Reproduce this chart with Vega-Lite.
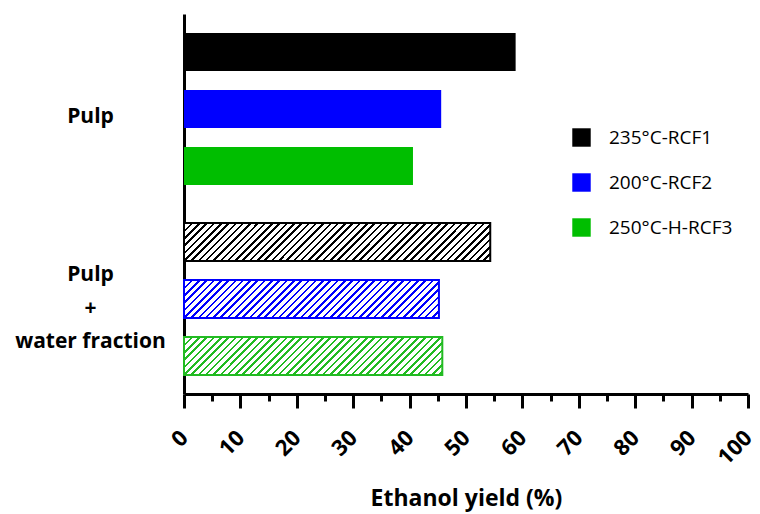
{
  "$schema": "https://vega.github.io/schema/vega-lite/v6.json",
  "width": 564,
  "height": 380,
  "autosize": "none",
  "padding": {"left": 184, "top": 14, "right": 12, "bottom": 120},
  "background": "white",
  "config": {"view": {"stroke": null}, "font": "Open Sans"},
  "data": {
    "values": [
      {"group": "Pulp", "series": "235°C-RCF1", "yield": 58.8},
      {"group": "Pulp", "series": "200°C-RCF2", "yield": 45.6},
      {"group": "Pulp", "series": "250°C-H-RCF3", "yield": 40.6},
      {"group": "Pulp + water fraction", "series": "235°C-RCF1", "yield": 54.3},
      {"group": "Pulp + water fraction", "series": "200°C-RCF2", "yield": 45.2},
      {"group": "Pulp + water fraction", "series": "250°C-H-RCF3", "yield": 45.8}
    ]
  },
  "encoding": {
    "y": {
      "field": "group",
      "type": "nominal",
      "sort": ["Pulp", "Pulp + water fraction"],
      "scale": {"paddingInner": 0, "paddingOuter": 0},
      "axis": {
        "title": null,
        "domainWidth": 3,
        "domainColor": "#000",
        "ticks": false,
        "tickSize": 0,
        "labelAlign": "center",
        "labelBaseline": "middle",
        "labelPadding": 94,
        "labelFontSize": 21,
        "labelFontWeight": "bold",
        "labelColor": "#000",
        "labelLineHeight": 33.5,
        "labelOffset": {"condition": {"test": "datum.value === 'Pulp'", "value": 8}, "value": -24},
        "labelLimit": 250,
        "labelExpr": "datum.value === 'Pulp' ? 'Pulp' : ['Pulp', '+', 'water fraction']"
      }
    },
    "yOffset": {
      "field": "series",
      "type": "nominal",
      "sort": ["235°C-RCF1", "200°C-RCF2", "250°C-H-RCF3"],
      "scale": {"paddingInner": 0.333, "paddingOuter": 0.333}
    },
    "x": {
      "field": "yield",
      "type": "quantitative",
      "scale": {"domain": [0, 100], "nice": false},
      "axis": {
        "title": "Ethanol yield (%)",
        "values": [0, 5, 10, 15, 20, 25, 30, 35, 40, 45, 50, 55, 60, 65, 70, 75, 80, 85, 90, 95, 100],
        "labelExpr": "datum.value % 10 === 0 ? datum.label : ''",
        "tickSize": {"condition": {"test": "datum.value % 10 === 0", "value": 14}, "value": 7},
        "tickWidth": 3,
        "tickColor": "#000",
        "domainWidth": 3,
        "domainColor": "#000",
        "grid": false,
        "labelAngle": -45,
        "labelAlign": "right",
        "labelBaseline": "middle",
        "labelFontSize": 22,
        "labelFontWeight": "bold",
        "labelColor": "#000",
        "labelPadding": 26,
        "labelOverlap": false,
        "labelFlush": false,
        "titleFontSize": 23,
        "titleFontWeight": "bold",
        "titleColor": "#000",
        "titleBaseline": "middle",
        "titleY": 104
      }
    }
  },
  "layer": [
    {
      "transform": [{"filter": "datum.group === 'Pulp'"}],
      "mark": {"type": "bar"},
      "encoding": {
        "color": {
          "field": "series",
          "type": "nominal",
          "sort": ["235°C-RCF1", "200°C-RCF2", "250°C-H-RCF3"],
          "scale": {"domain": ["235°C-RCF1", "200°C-RCF2", "250°C-H-RCF3"], "range": ["#000000", "#0000ff", "#00be00"]},
          "legend": {
            "title": null,
            "orient": "none",
            "legendX": 388,
            "legendY": 114,
            "symbolType": "square",
            "symbolSize": 340,
            "symbolStrokeWidth": 0,
            "labelFontSize": 19,
            "labelColor": "#000",
            "labelOffset": 18,
            "rowPadding": 25
          }
        }
      }
    },
    {
      "transform": [{"filter": "datum.group !== 'Pulp' && datum.series === '235°C-RCF1'"}],
      "mark": {
        "type": "bar",
        "stroke": "#000",
        "strokeWidth": 2,
        "fill": {
          "gradient": "linear", "x1": 0, "y1": 0, "x2": 1.174, "y2": 0.1456,
          "stops": [
            {"offset":0,"color":"#000"},{"offset":0.007,"color":"#000"},{"offset":0.007,"color":"#fff"},{"offset":0.02,"color":"#fff"},
            {"offset":0.02,"color":"#000"},{"offset":0.027,"color":"#000"},{"offset":0.027,"color":"#fff"},{"offset":0.04,"color":"#fff"},
            {"offset":0.04,"color":"#000"},{"offset":0.047,"color":"#000"},{"offset":0.047,"color":"#fff"},{"offset":0.06,"color":"#fff"},
            {"offset":0.06,"color":"#000"},{"offset":0.067,"color":"#000"},{"offset":0.067,"color":"#fff"},{"offset":0.08,"color":"#fff"},
            {"offset":0.08,"color":"#000"},{"offset":0.087,"color":"#000"},{"offset":0.087,"color":"#fff"},{"offset":0.1,"color":"#fff"},
            {"offset":0.1,"color":"#000"},{"offset":0.107,"color":"#000"},{"offset":0.107,"color":"#fff"},{"offset":0.12,"color":"#fff"},
            {"offset":0.12,"color":"#000"},{"offset":0.127,"color":"#000"},{"offset":0.127,"color":"#fff"},{"offset":0.14,"color":"#fff"},
            {"offset":0.14,"color":"#000"},{"offset":0.147,"color":"#000"},{"offset":0.147,"color":"#fff"},{"offset":0.16,"color":"#fff"},
            {"offset":0.16,"color":"#000"},{"offset":0.167,"color":"#000"},{"offset":0.167,"color":"#fff"},{"offset":0.18,"color":"#fff"},
            {"offset":0.18,"color":"#000"},{"offset":0.187,"color":"#000"},{"offset":0.187,"color":"#fff"},{"offset":0.2,"color":"#fff"},
            {"offset":0.2,"color":"#000"},{"offset":0.207,"color":"#000"},{"offset":0.207,"color":"#fff"},{"offset":0.22,"color":"#fff"},
            {"offset":0.22,"color":"#000"},{"offset":0.227,"color":"#000"},{"offset":0.227,"color":"#fff"},{"offset":0.24,"color":"#fff"},
            {"offset":0.24,"color":"#000"},{"offset":0.247,"color":"#000"},{"offset":0.247,"color":"#fff"},{"offset":0.26,"color":"#fff"},
            {"offset":0.26,"color":"#000"},{"offset":0.267,"color":"#000"},{"offset":0.267,"color":"#fff"},{"offset":0.28,"color":"#fff"},
            {"offset":0.28,"color":"#000"},{"offset":0.287,"color":"#000"},{"offset":0.287,"color":"#fff"},{"offset":0.3,"color":"#fff"},
            {"offset":0.3,"color":"#000"},{"offset":0.307,"color":"#000"},{"offset":0.307,"color":"#fff"},{"offset":0.32,"color":"#fff"},
            {"offset":0.32,"color":"#000"},{"offset":0.327,"color":"#000"},{"offset":0.327,"color":"#fff"},{"offset":0.34,"color":"#fff"},
            {"offset":0.34,"color":"#000"},{"offset":0.347,"color":"#000"},{"offset":0.347,"color":"#fff"},{"offset":0.36,"color":"#fff"},
            {"offset":0.36,"color":"#000"},{"offset":0.367,"color":"#000"},{"offset":0.367,"color":"#fff"},{"offset":0.38,"color":"#fff"},
            {"offset":0.38,"color":"#000"},{"offset":0.387,"color":"#000"},{"offset":0.387,"color":"#fff"},{"offset":0.4,"color":"#fff"},
            {"offset":0.4,"color":"#000"},{"offset":0.407,"color":"#000"},{"offset":0.407,"color":"#fff"},{"offset":0.42,"color":"#fff"},
            {"offset":0.42,"color":"#000"},{"offset":0.427,"color":"#000"},{"offset":0.427,"color":"#fff"},{"offset":0.44,"color":"#fff"},
            {"offset":0.44,"color":"#000"},{"offset":0.447,"color":"#000"},{"offset":0.447,"color":"#fff"},{"offset":0.46,"color":"#fff"},
            {"offset":0.46,"color":"#000"},{"offset":0.467,"color":"#000"},{"offset":0.467,"color":"#fff"},{"offset":0.48,"color":"#fff"},
            {"offset":0.48,"color":"#000"},{"offset":0.487,"color":"#000"},{"offset":0.487,"color":"#fff"},{"offset":0.5,"color":"#fff"},
            {"offset":0.5,"color":"#000"},{"offset":0.507,"color":"#000"},{"offset":0.507,"color":"#fff"},{"offset":0.52,"color":"#fff"},
            {"offset":0.52,"color":"#000"},{"offset":0.527,"color":"#000"},{"offset":0.527,"color":"#fff"},{"offset":0.54,"color":"#fff"},
            {"offset":0.54,"color":"#000"},{"offset":0.547,"color":"#000"},{"offset":0.547,"color":"#fff"},{"offset":0.56,"color":"#fff"},
            {"offset":0.56,"color":"#000"},{"offset":0.567,"color":"#000"},{"offset":0.567,"color":"#fff"},{"offset":0.58,"color":"#fff"},
            {"offset":0.58,"color":"#000"},{"offset":0.587,"color":"#000"},{"offset":0.587,"color":"#fff"},{"offset":0.6,"color":"#fff"},
            {"offset":0.6,"color":"#000"},{"offset":0.607,"color":"#000"},{"offset":0.607,"color":"#fff"},{"offset":0.62,"color":"#fff"},
            {"offset":0.62,"color":"#000"},{"offset":0.627,"color":"#000"},{"offset":0.627,"color":"#fff"},{"offset":0.64,"color":"#fff"},
            {"offset":0.64,"color":"#000"},{"offset":0.647,"color":"#000"},{"offset":0.647,"color":"#fff"},{"offset":0.66,"color":"#fff"},
            {"offset":0.66,"color":"#000"},{"offset":0.667,"color":"#000"},{"offset":0.667,"color":"#fff"},{"offset":0.68,"color":"#fff"},
            {"offset":0.68,"color":"#000"},{"offset":0.687,"color":"#000"},{"offset":0.687,"color":"#fff"},{"offset":0.7,"color":"#fff"},
            {"offset":0.7,"color":"#000"},{"offset":0.707,"color":"#000"},{"offset":0.707,"color":"#fff"},{"offset":0.72,"color":"#fff"},
            {"offset":0.72,"color":"#000"},{"offset":0.727,"color":"#000"},{"offset":0.727,"color":"#fff"},{"offset":0.74,"color":"#fff"},
            {"offset":0.74,"color":"#000"},{"offset":0.747,"color":"#000"},{"offset":0.747,"color":"#fff"},{"offset":0.76,"color":"#fff"},
            {"offset":0.76,"color":"#000"},{"offset":0.767,"color":"#000"},{"offset":0.767,"color":"#fff"},{"offset":0.78,"color":"#fff"},
            {"offset":0.78,"color":"#000"},{"offset":0.787,"color":"#000"},{"offset":0.787,"color":"#fff"},{"offset":0.8,"color":"#fff"},
            {"offset":0.8,"color":"#000"},{"offset":0.807,"color":"#000"},{"offset":0.807,"color":"#fff"},{"offset":0.82,"color":"#fff"},
            {"offset":0.82,"color":"#000"},{"offset":0.827,"color":"#000"},{"offset":0.827,"color":"#fff"},{"offset":0.84,"color":"#fff"},
            {"offset":0.84,"color":"#000"},{"offset":0.847,"color":"#000"},{"offset":0.847,"color":"#fff"},{"offset":0.86,"color":"#fff"},
            {"offset":0.86,"color":"#000"},{"offset":0.867,"color":"#000"},{"offset":0.867,"color":"#fff"},{"offset":0.88,"color":"#fff"},
            {"offset":0.88,"color":"#000"},{"offset":0.887,"color":"#000"},{"offset":0.887,"color":"#fff"},{"offset":0.9,"color":"#fff"},
            {"offset":0.9,"color":"#000"},{"offset":0.907,"color":"#000"},{"offset":0.907,"color":"#fff"},{"offset":0.92,"color":"#fff"},
            {"offset":0.92,"color":"#000"},{"offset":0.927,"color":"#000"},{"offset":0.927,"color":"#fff"},{"offset":0.94,"color":"#fff"},
            {"offset":0.94,"color":"#000"},{"offset":0.947,"color":"#000"},{"offset":0.947,"color":"#fff"},{"offset":0.96,"color":"#fff"}
          ]
        }
      }
    },
    {
      "transform": [{"filter": "datum.group !== 'Pulp' && datum.series === '200°C-RCF2'"}],
      "mark": {
        "type": "bar",
        "stroke": "#00f",
        "strokeWidth": 2,
        "fill": {
          "gradient": "linear", "x1": 0, "y1": 0, "x2": 1.4005, "y2": 0.2088,
          "stops": [
            {"offset":0,"color":"#00f"},{"offset":0.007,"color":"#00f"},{"offset":0.007,"color":"#fff"},{"offset":0.02,"color":"#fff"},
            {"offset":0.02,"color":"#00f"},{"offset":0.027,"color":"#00f"},{"offset":0.027,"color":"#fff"},{"offset":0.04,"color":"#fff"},
            {"offset":0.04,"color":"#00f"},{"offset":0.047,"color":"#00f"},{"offset":0.047,"color":"#fff"},{"offset":0.06,"color":"#fff"},
            {"offset":0.06,"color":"#00f"},{"offset":0.067,"color":"#00f"},{"offset":0.067,"color":"#fff"},{"offset":0.08,"color":"#fff"},
            {"offset":0.08,"color":"#00f"},{"offset":0.087,"color":"#00f"},{"offset":0.087,"color":"#fff"},{"offset":0.1,"color":"#fff"},
            {"offset":0.1,"color":"#00f"},{"offset":0.107,"color":"#00f"},{"offset":0.107,"color":"#fff"},{"offset":0.12,"color":"#fff"},
            {"offset":0.12,"color":"#00f"},{"offset":0.127,"color":"#00f"},{"offset":0.127,"color":"#fff"},{"offset":0.14,"color":"#fff"},
            {"offset":0.14,"color":"#00f"},{"offset":0.147,"color":"#00f"},{"offset":0.147,"color":"#fff"},{"offset":0.16,"color":"#fff"},
            {"offset":0.16,"color":"#00f"},{"offset":0.167,"color":"#00f"},{"offset":0.167,"color":"#fff"},{"offset":0.18,"color":"#fff"},
            {"offset":0.18,"color":"#00f"},{"offset":0.187,"color":"#00f"},{"offset":0.187,"color":"#fff"},{"offset":0.2,"color":"#fff"},
            {"offset":0.2,"color":"#00f"},{"offset":0.207,"color":"#00f"},{"offset":0.207,"color":"#fff"},{"offset":0.22,"color":"#fff"},
            {"offset":0.22,"color":"#00f"},{"offset":0.227,"color":"#00f"},{"offset":0.227,"color":"#fff"},{"offset":0.24,"color":"#fff"},
            {"offset":0.24,"color":"#00f"},{"offset":0.247,"color":"#00f"},{"offset":0.247,"color":"#fff"},{"offset":0.26,"color":"#fff"},
            {"offset":0.26,"color":"#00f"},{"offset":0.267,"color":"#00f"},{"offset":0.267,"color":"#fff"},{"offset":0.28,"color":"#fff"},
            {"offset":0.28,"color":"#00f"},{"offset":0.287,"color":"#00f"},{"offset":0.287,"color":"#fff"},{"offset":0.3,"color":"#fff"},
            {"offset":0.3,"color":"#00f"},{"offset":0.307,"color":"#00f"},{"offset":0.307,"color":"#fff"},{"offset":0.32,"color":"#fff"},
            {"offset":0.32,"color":"#00f"},{"offset":0.327,"color":"#00f"},{"offset":0.327,"color":"#fff"},{"offset":0.34,"color":"#fff"},
            {"offset":0.34,"color":"#00f"},{"offset":0.347,"color":"#00f"},{"offset":0.347,"color":"#fff"},{"offset":0.36,"color":"#fff"},
            {"offset":0.36,"color":"#00f"},{"offset":0.367,"color":"#00f"},{"offset":0.367,"color":"#fff"},{"offset":0.38,"color":"#fff"},
            {"offset":0.38,"color":"#00f"},{"offset":0.387,"color":"#00f"},{"offset":0.387,"color":"#fff"},{"offset":0.4,"color":"#fff"},
            {"offset":0.4,"color":"#00f"},{"offset":0.407,"color":"#00f"},{"offset":0.407,"color":"#fff"},{"offset":0.42,"color":"#fff"},
            {"offset":0.42,"color":"#00f"},{"offset":0.427,"color":"#00f"},{"offset":0.427,"color":"#fff"},{"offset":0.44,"color":"#fff"},
            {"offset":0.44,"color":"#00f"},{"offset":0.447,"color":"#00f"},{"offset":0.447,"color":"#fff"},{"offset":0.46,"color":"#fff"},
            {"offset":0.46,"color":"#00f"},{"offset":0.467,"color":"#00f"},{"offset":0.467,"color":"#fff"},{"offset":0.48,"color":"#fff"},
            {"offset":0.48,"color":"#00f"},{"offset":0.487,"color":"#00f"},{"offset":0.487,"color":"#fff"},{"offset":0.5,"color":"#fff"},
            {"offset":0.5,"color":"#00f"},{"offset":0.507,"color":"#00f"},{"offset":0.507,"color":"#fff"},{"offset":0.52,"color":"#fff"},
            {"offset":0.52,"color":"#00f"},{"offset":0.527,"color":"#00f"},{"offset":0.527,"color":"#fff"},{"offset":0.54,"color":"#fff"},
            {"offset":0.54,"color":"#00f"},{"offset":0.547,"color":"#00f"},{"offset":0.547,"color":"#fff"},{"offset":0.56,"color":"#fff"},
            {"offset":0.56,"color":"#00f"},{"offset":0.567,"color":"#00f"},{"offset":0.567,"color":"#fff"},{"offset":0.58,"color":"#fff"},
            {"offset":0.58,"color":"#00f"},{"offset":0.587,"color":"#00f"},{"offset":0.587,"color":"#fff"},{"offset":0.6,"color":"#fff"},
            {"offset":0.6,"color":"#00f"},{"offset":0.607,"color":"#00f"},{"offset":0.607,"color":"#fff"},{"offset":0.62,"color":"#fff"},
            {"offset":0.62,"color":"#00f"},{"offset":0.627,"color":"#00f"},{"offset":0.627,"color":"#fff"},{"offset":0.64,"color":"#fff"},
            {"offset":0.64,"color":"#00f"},{"offset":0.647,"color":"#00f"},{"offset":0.647,"color":"#fff"},{"offset":0.66,"color":"#fff"},
            {"offset":0.66,"color":"#00f"},{"offset":0.667,"color":"#00f"},{"offset":0.667,"color":"#fff"},{"offset":0.68,"color":"#fff"},
            {"offset":0.68,"color":"#00f"},{"offset":0.687,"color":"#00f"},{"offset":0.687,"color":"#fff"},{"offset":0.7,"color":"#fff"},
            {"offset":0.7,"color":"#00f"},{"offset":0.707,"color":"#00f"},{"offset":0.707,"color":"#fff"},{"offset":0.72,"color":"#fff"},
            {"offset":0.72,"color":"#00f"},{"offset":0.727,"color":"#00f"},{"offset":0.727,"color":"#fff"},{"offset":0.74,"color":"#fff"},
            {"offset":0.74,"color":"#00f"},{"offset":0.747,"color":"#00f"},{"offset":0.747,"color":"#fff"},{"offset":0.76,"color":"#fff"},
            {"offset":0.76,"color":"#00f"},{"offset":0.767,"color":"#00f"},{"offset":0.767,"color":"#fff"},{"offset":0.78,"color":"#fff"},
            {"offset":0.78,"color":"#00f"},{"offset":0.787,"color":"#00f"},{"offset":0.787,"color":"#fff"},{"offset":0.8,"color":"#fff"},
            {"offset":0.8,"color":"#00f"},{"offset":0.807,"color":"#00f"},{"offset":0.807,"color":"#fff"},{"offset":0.82,"color":"#fff"}
          ]
        }
      }
    },
    {
      "transform": [{"filter": "datum.group !== 'Pulp' && datum.series === '250°C-H-RCF3'"}],
      "mark": {
        "type": "bar",
        "stroke": "#22bb22",
        "strokeWidth": 2,
        "fill": {
          "gradient": "linear", "x1": 0, "y1": 0, "x2": 1.383, "y2": 0.2035,
          "stops": [
            {"offset":0,"color":"#2b2"},{"offset":0.007,"color":"#2b2"},{"offset":0.007,"color":"#fff"},{"offset":0.02,"color":"#fff"},
            {"offset":0.02,"color":"#2b2"},{"offset":0.027,"color":"#2b2"},{"offset":0.027,"color":"#fff"},{"offset":0.04,"color":"#fff"},
            {"offset":0.04,"color":"#2b2"},{"offset":0.047,"color":"#2b2"},{"offset":0.047,"color":"#fff"},{"offset":0.06,"color":"#fff"},
            {"offset":0.06,"color":"#2b2"},{"offset":0.067,"color":"#2b2"},{"offset":0.067,"color":"#fff"},{"offset":0.08,"color":"#fff"},
            {"offset":0.08,"color":"#2b2"},{"offset":0.087,"color":"#2b2"},{"offset":0.087,"color":"#fff"},{"offset":0.1,"color":"#fff"},
            {"offset":0.1,"color":"#2b2"},{"offset":0.107,"color":"#2b2"},{"offset":0.107,"color":"#fff"},{"offset":0.12,"color":"#fff"},
            {"offset":0.12,"color":"#2b2"},{"offset":0.127,"color":"#2b2"},{"offset":0.127,"color":"#fff"},{"offset":0.14,"color":"#fff"},
            {"offset":0.14,"color":"#2b2"},{"offset":0.147,"color":"#2b2"},{"offset":0.147,"color":"#fff"},{"offset":0.16,"color":"#fff"},
            {"offset":0.16,"color":"#2b2"},{"offset":0.167,"color":"#2b2"},{"offset":0.167,"color":"#fff"},{"offset":0.18,"color":"#fff"},
            {"offset":0.18,"color":"#2b2"},{"offset":0.187,"color":"#2b2"},{"offset":0.187,"color":"#fff"},{"offset":0.2,"color":"#fff"},
            {"offset":0.2,"color":"#2b2"},{"offset":0.207,"color":"#2b2"},{"offset":0.207,"color":"#fff"},{"offset":0.22,"color":"#fff"},
            {"offset":0.22,"color":"#2b2"},{"offset":0.227,"color":"#2b2"},{"offset":0.227,"color":"#fff"},{"offset":0.24,"color":"#fff"},
            {"offset":0.24,"color":"#2b2"},{"offset":0.247,"color":"#2b2"},{"offset":0.247,"color":"#fff"},{"offset":0.26,"color":"#fff"},
            {"offset":0.26,"color":"#2b2"},{"offset":0.267,"color":"#2b2"},{"offset":0.267,"color":"#fff"},{"offset":0.28,"color":"#fff"},
            {"offset":0.28,"color":"#2b2"},{"offset":0.287,"color":"#2b2"},{"offset":0.287,"color":"#fff"},{"offset":0.3,"color":"#fff"},
            {"offset":0.3,"color":"#2b2"},{"offset":0.307,"color":"#2b2"},{"offset":0.307,"color":"#fff"},{"offset":0.32,"color":"#fff"},
            {"offset":0.32,"color":"#2b2"},{"offset":0.327,"color":"#2b2"},{"offset":0.327,"color":"#fff"},{"offset":0.34,"color":"#fff"},
            {"offset":0.34,"color":"#2b2"},{"offset":0.347,"color":"#2b2"},{"offset":0.347,"color":"#fff"},{"offset":0.36,"color":"#fff"},
            {"offset":0.36,"color":"#2b2"},{"offset":0.367,"color":"#2b2"},{"offset":0.367,"color":"#fff"},{"offset":0.38,"color":"#fff"},
            {"offset":0.38,"color":"#2b2"},{"offset":0.387,"color":"#2b2"},{"offset":0.387,"color":"#fff"},{"offset":0.4,"color":"#fff"},
            {"offset":0.4,"color":"#2b2"},{"offset":0.407,"color":"#2b2"},{"offset":0.407,"color":"#fff"},{"offset":0.42,"color":"#fff"},
            {"offset":0.42,"color":"#2b2"},{"offset":0.427,"color":"#2b2"},{"offset":0.427,"color":"#fff"},{"offset":0.44,"color":"#fff"},
            {"offset":0.44,"color":"#2b2"},{"offset":0.447,"color":"#2b2"},{"offset":0.447,"color":"#fff"},{"offset":0.46,"color":"#fff"},
            {"offset":0.46,"color":"#2b2"},{"offset":0.467,"color":"#2b2"},{"offset":0.467,"color":"#fff"},{"offset":0.48,"color":"#fff"},
            {"offset":0.48,"color":"#2b2"},{"offset":0.487,"color":"#2b2"},{"offset":0.487,"color":"#fff"},{"offset":0.5,"color":"#fff"},
            {"offset":0.5,"color":"#2b2"},{"offset":0.507,"color":"#2b2"},{"offset":0.507,"color":"#fff"},{"offset":0.52,"color":"#fff"},
            {"offset":0.52,"color":"#2b2"},{"offset":0.527,"color":"#2b2"},{"offset":0.527,"color":"#fff"},{"offset":0.54,"color":"#fff"},
            {"offset":0.54,"color":"#2b2"},{"offset":0.547,"color":"#2b2"},{"offset":0.547,"color":"#fff"},{"offset":0.56,"color":"#fff"},
            {"offset":0.56,"color":"#2b2"},{"offset":0.567,"color":"#2b2"},{"offset":0.567,"color":"#fff"},{"offset":0.58,"color":"#fff"},
            {"offset":0.58,"color":"#2b2"},{"offset":0.587,"color":"#2b2"},{"offset":0.587,"color":"#fff"},{"offset":0.6,"color":"#fff"},
            {"offset":0.6,"color":"#2b2"},{"offset":0.607,"color":"#2b2"},{"offset":0.607,"color":"#fff"},{"offset":0.62,"color":"#fff"},
            {"offset":0.62,"color":"#2b2"},{"offset":0.627,"color":"#2b2"},{"offset":0.627,"color":"#fff"},{"offset":0.64,"color":"#fff"},
            {"offset":0.64,"color":"#2b2"},{"offset":0.647,"color":"#2b2"},{"offset":0.647,"color":"#fff"},{"offset":0.66,"color":"#fff"},
            {"offset":0.66,"color":"#2b2"},{"offset":0.667,"color":"#2b2"},{"offset":0.667,"color":"#fff"},{"offset":0.68,"color":"#fff"},
            {"offset":0.68,"color":"#2b2"},{"offset":0.687,"color":"#2b2"},{"offset":0.687,"color":"#fff"},{"offset":0.7,"color":"#fff"},
            {"offset":0.7,"color":"#2b2"},{"offset":0.707,"color":"#2b2"},{"offset":0.707,"color":"#fff"},{"offset":0.72,"color":"#fff"},
            {"offset":0.72,"color":"#2b2"},{"offset":0.727,"color":"#2b2"},{"offset":0.727,"color":"#fff"},{"offset":0.74,"color":"#fff"},
            {"offset":0.74,"color":"#2b2"},{"offset":0.747,"color":"#2b2"},{"offset":0.747,"color":"#fff"},{"offset":0.76,"color":"#fff"},
            {"offset":0.76,"color":"#2b2"},{"offset":0.767,"color":"#2b2"},{"offset":0.767,"color":"#fff"},{"offset":0.78,"color":"#fff"},
            {"offset":0.78,"color":"#2b2"},{"offset":0.787,"color":"#2b2"},{"offset":0.787,"color":"#fff"},{"offset":0.8,"color":"#fff"},
            {"offset":0.8,"color":"#2b2"},{"offset":0.807,"color":"#2b2"},{"offset":0.807,"color":"#fff"},{"offset":0.82,"color":"#fff"}
          ]
        }
      }
    }
  ]
}
